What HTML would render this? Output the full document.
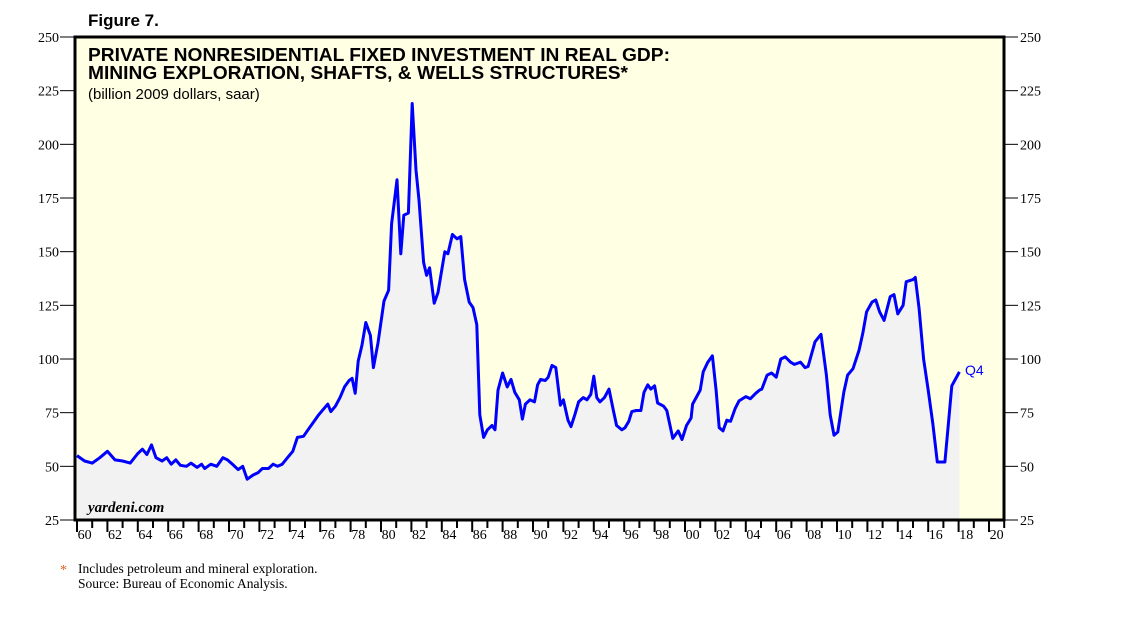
<!DOCTYPE html>
<html><head><meta charset="utf-8"><style>
html,body{margin:0;padding:0;background:#fff;}
svg{display:block;}
</style></head><body>
<svg id="chart" width="1138" height="621" xmlns="http://www.w3.org/2000/svg">
<text x="88" y="26" font-family="Liberation Sans, sans-serif" font-weight="bold" font-size="17">Figure 7.</text>
<rect x="75" y="37" width="929" height="483" fill="#ffffe3"/>
<g id="marks"></g>
<rect x="75" y="37" width="929" height="483" fill="none" stroke="#000" stroke-width="3"/>
<text x="88" y="61" font-family="Liberation Sans, sans-serif" font-weight="bold" font-size="18" textLength="582" lengthAdjust="spacingAndGlyphs">PRIVATE NONRESIDENTIAL FIXED INVESTMENT IN REAL GDP:</text>
<text x="88" y="79" font-family="Liberation Sans, sans-serif" font-weight="bold" font-size="18" textLength="540" lengthAdjust="spacingAndGlyphs">MINING EXPLORATION, SHAFTS, &amp; WELLS STRUCTURES*</text>
<text x="88" y="99" font-family="Liberation Sans, sans-serif" font-size="15">(billion 2009 dollars, saar)</text>
<text x="88" y="512" font-family="Liberation Serif, serif" font-style="italic" font-weight="bold" font-size="15">yardeni.com</text>
<g id="axes"></g>
<text x="965" y="375" font-family="Liberation Sans, sans-serif" font-size="14" fill="#0000ff">Q4</text>
<text x="60" y="574" font-family="Liberation Serif, serif" font-size="14" fill="#e06020">*</text>
<text x="78" y="573" font-family="Liberation Serif, serif" font-size="13.5">Includes petroleum and mineral exploration.</text>
<text x="78" y="588" font-family="Liberation Serif, serif" font-size="13.5">Source: Bureau of Economic Analysis.</text>
</svg>
<script>
const dates = [1960.0,1960.5,1961.0,1961.5,1962.0,1962.5,1963.0,1963.5,1964.0,1964.3,1964.6,1964.9,1965.2,1965.6,1965.9,1966.2,1966.5,1966.8,1967.2,1967.5,1967.9,1968.2,1968.4,1968.8,1969.2,1969.6,1969.9,1970.3,1970.6,1970.9,1971.2,1971.6,1971.9,1972.2,1972.6,1972.9,1973.2,1973.5,1973.9,1974.2,1974.5,1974.9,1975.2,1975.5,1975.9,1976.2,1976.5,1976.7,1977.0,1977.3,1977.6,1977.9,1978.1,1978.3,1978.5,1978.75,1979.0,1979.3,1979.5,1979.8,1980.2,1980.5,1980.7,1981.05,1981.3,1981.5,1981.8,1982.05,1982.3,1982.5,1982.8,1983.0,1983.2,1983.5,1983.75,1984.2,1984.4,1984.7,1985.0,1985.25,1985.5,1985.8,1986.05,1986.3,1986.5,1986.75,1987.0,1987.3,1987.5,1987.7,1988.0,1988.3,1988.55,1988.8,1989.1,1989.3,1989.5,1989.8,1990.1,1990.3,1990.5,1990.8,1991.0,1991.25,1991.5,1991.8,1992.0,1992.3,1992.5,1992.75,1993.0,1993.3,1993.55,1993.8,1994.0,1994.2,1994.4,1994.7,1995.0,1995.3,1995.5,1995.85,1996.05,1996.3,1996.5,1996.8,1997.1,1997.3,1997.55,1997.75,1998.0,1998.2,1998.6,1998.8,1999.2,1999.55,1999.8,2000.1,2000.4,2000.5,2001.0,2001.2,2001.5,2001.8,2002.05,2002.25,2002.5,2002.75,2003.0,2003.3,2003.55,2004.0,2004.3,2004.65,2004.9,2005.05,2005.4,2005.7,2006.0,2006.3,2006.6,2006.95,2007.2,2007.6,2007.9,2008.1,2008.55,2008.95,2009.3,2009.55,2009.8,2010.05,2010.45,2010.7,2011.05,2011.45,2011.7,2011.95,2012.3,2012.55,2012.8,2013.1,2013.5,2013.75,2014.0,2014.35,2014.55,2015.0,2015.15,2015.4,2015.7,2016.0,2016.3,2016.6,2016.95,2017.1,2017.35,2017.55,2018.05];
const values = [55,52.5,51.5,54,57,53,52.5,51.5,56,58,55.5,60,54,52.5,54,51,53,50.5,50,51.5,49.5,51,49,51,50,54,53,50.5,48.5,50,44,46,47,49,49,51,50,51,54.5,57,63.5,64,67,70,74,76.5,79,75.5,78,82,87,90,91,84,99,106.5,117,111,96,107.5,127,132,163,183.5,149,167,168,219,188,174,145,139,142.5,126,131,150,149,158,156,157,137,126.5,124,116,74,63.5,67,69,67,85.5,93.5,87,90.5,84.5,81,72,79,81,80,88,90.5,90,91.5,97,96,78.5,81,71.5,68.5,74,80,82,81,83.5,92,82,80,82,86,75.5,69,67,68,71,75.5,76,76,84.5,88,86,87.5,79.5,78,76,63,66.5,62.5,69,72.5,79,85.5,94,98.5,101.5,85,68,66.5,71.5,71,77,80.5,82.5,81.5,84,85.5,86,92.5,93.5,91.5,100,101,98.5,97.5,98.5,96,96.5,108,111.5,92.5,74,64.5,66,84.5,92.5,95.5,104,112,122,126.5,127.5,122,118,129,130,121,125,136,137,138,123.5,100,85.5,70,52,52,52,71.5,87.5,94];
const yTicks = [25,50,75,100,125,150,175,200,225,250];
const xLabels = ["60","62","64","66","68","70","72","74","76","78","80","82","84","86","88","90","92","94","96","98","00","02","04","06","08","10","12","14","16","18","20"];

const NS="http://www.w3.org/2000/svg";
const X0=77, PX=15.2, Y0=520, Y1=37;
function xs(t){return X0+(t-1960)*PX;}
function ys(v){return Y0-(v-25)*(Y0-Y1)/225;}
function mk(tag,attrs,parent){const e=document.createElementNS(NS,tag);for(const k in attrs)e.setAttribute(k,attrs[k]);parent.appendChild(e);return e;}
const marks=document.getElementById('marks'), axes=document.getElementById('axes');
let pts=dates.map((d,i)=>xs(d).toFixed(1)+','+ys(values[i]).toFixed(1));
const area=mk('path',{d:'M'+xs(dates[0])+','+Y0+' L'+pts.join(' L')+' L'+xs(dates[dates.length-1])+','+Y0+' Z',fill:'#f2f2f2'},marks);


const line=mk('polyline',{points:pts.join(' '),fill:'none',stroke:'#0000ff','stroke-width':3,'stroke-linejoin':'round'},marks);


yTicks.forEach(v=>{
  const y=ys(v);
  const t1=mk('line',{x1:60,x2:75,y1:y,y2:y,stroke:'#000','stroke-width':1},axes);
  
  
  const t2=mk('line',{x1:1004,x2:1018,y1:y,y2:y,stroke:'#000','stroke-width':1},axes);
  
  
  const l1=mk('text',{x:59,y:y+5,'text-anchor':'end','font-family':'Liberation Serif, serif','font-size':14},axes);
  l1.textContent=v;
  
  
  const l2=mk('text',{x:1020,y:y+5,'font-family':'Liberation Serif, serif','font-size':14},axes);
  l2.textContent=v;
  
  
});
for(let yr=1960;yr<=2021;yr++){
  const x=xs(yr);
  const tk=mk('line',{x1:x,x2:x,y1:520,y2:(yr%2===0)?532:528,stroke:'#000','stroke-width':2},axes);
  
  
}
xLabels.forEach((s,i)=>{
  const lb=mk('text',{x:xs(1960+2*i+0.5),y:539,'text-anchor':'middle','font-family':'Liberation Serif, serif','font-size':14},axes);
  lb.textContent=s;
  
  
});
</script>
</body></html>
